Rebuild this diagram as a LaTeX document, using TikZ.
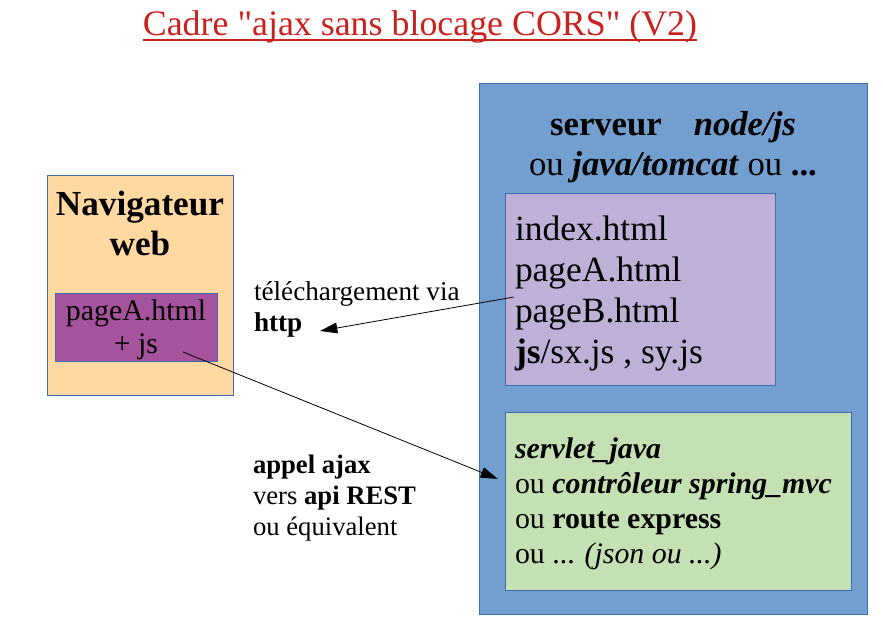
\documentclass[tikz,border=0pt]{standalone}
\usepackage{fontspec}
\setmainfont{Liberation Serif}
\usetikzlibrary{arrows.meta}
\usetikzlibrary{positioning}

\definecolor{titlered}{RGB}{201,33,30}
\definecolor{serverblue}{RGB}{114,159,207}
\definecolor{edgeblue}{RGB}{62,108,178}
\definecolor{browserorange}{RGB}{255,216,162}
\definecolor{pagepurple}{RGB}{166,83,158}
\definecolor{filelilac}{RGB}{191,176,216}
\definecolor{handlergreen}{RGB}{197,224,179}

\newcommand\plainquote{\XeTeXglyph\XeTeXcharglyph"22\relax}

\tikzset{
	box/.style={draw=edgeblue, line width=0.75pt, inner sep=0pt, outer sep=0pt},
	txt/.style={inner sep=0pt, outer sep=0pt, align=left},
	link/.style={-{Triangle[length=13pt,width=8pt]}, line width=0.6pt},
}

\begin{document}
\begin{tikzpicture}[x=0.75pt, y=-0.75pt]
	\useasboundingbox (0,0) rectangle (883,632);
	% title
	\node[txt, anchor=base, text=titlered, font=\fontsize{26.9}{30}\selectfont] (title) at (420,35) {Cadre \plainquote ajax sans blocage CORS\plainquote{} (V2)};
	\draw[titlered, line width=1.1pt] ([yshift=-3.8pt]title.base west) -- ([yshift=-3.8pt]title.base east);
	% boxes
	\node[box, fill=serverblue, minimum width=291pt, minimum height=398.25pt] (server) at (673,348.5) {};
	\node[box, fill=filelilac, minimum width=202.5pt, minimum height=144pt] (files) at (640,289) {};
	\node[box, fill=handlergreen, minimum width=259.5pt, minimum height=133.5pt] (handler) at (678,501) {};
	\node[box, fill=browserorange, minimum width=139.5pt, minimum height=165pt] (browser) at (140,285) {};
	\node[box, fill=pagepurple, minimum width=121.5pt, minimum height=51pt] (page) at (136,327) {};
	% texts (base = last line)
	\node[txt, align=center, anchor=base, font=\bfseries\fontsize{26.4}{30}\selectfont] (browsertitle) at (140,255) {Navigateur\\web};
	\node[txt, align=center, anchor=base, font=\fontsize{22.4}{24.75}\selectfont] (pagetext) at (136,353) {pageA.html\\+ js};
	\node[txt, align=center, anchor=base, font=\fontsize{26}{30}\selectfont] (servertitle) at (673,175) {\textbf{serveur}\hspace{24pt}\textbf{\itshape node/js}\\ou \textbf{\itshape java/tomcat} ou \textbf{...}};
	\node[txt, anchor=base west, font=\fontsize{26.6}{30.75}\selectfont] (filelist) at (515,363) {index.html\\pageA.html\\pageB.html\\\textbf{js}/sx.js , sy.js};
	\node[txt, anchor=base west, font=\fontsize{22.4}{26.25}\selectfont] (handlertext) at (515,563) {\textbf{\itshape servlet\_java}\\ou \textbf{\itshape contrôleur spring\_mvc}\\ou \textbf{route express}\\ou ... \textit{(json ou ...)}};
	\node[txt, anchor=base west, font=\fontsize{20.4}{23}\selectfont] (dllabel) at (254,331) {téléchargement via\\\textbf{http}};
	\node[txt, anchor=base west, font=\fontsize{20}{23}\selectfont] (ajaxlabel) at (253,535) {\textbf{appel ajax}\\vers \textbf{api REST}\\ou équivalent};
	% arrows
	\coordinate (dlfrom) at (514,297);
	\coordinate (dlto) at (320,331);
	\draw[link] (dlfrom) -- (dlto);
	\coordinate (ajaxfrom) at (183,352);
	\coordinate (ajaxto) at (498,479);
	\draw[link] (ajaxfrom) -- (ajaxto);
\end{tikzpicture}
\end{document}
